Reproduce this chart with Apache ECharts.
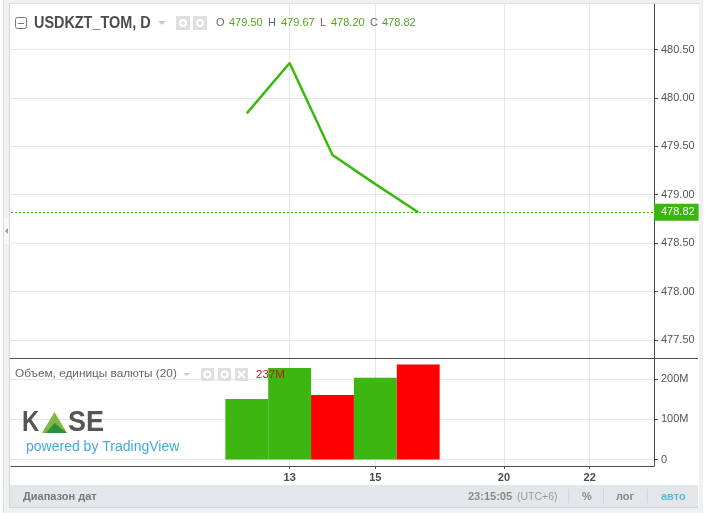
<!DOCTYPE html>
<html>
<head>
<meta charset="utf-8">
<style>
  html, body { margin: 0; padding: 0; background: #fff; }
  #chart { width: 711px; height: 516px; }
</style>
<script src="https://cdn.jsdelivr.net/npm/echarts@6/dist/echarts.min.js"></script>
</head>
<body>
<div id="chart"></div>
<script>
// trading days on the axis, weekends are skipped
const days = ["5", "6", "7", "8", "9", "12", "13", "14", "15", "16", "19", "20", "21", "22", "23"];
const shownDays = ["13", "15", "20", "22"];
const closes = [null, null, null, null, null, 479.84, 480.36, 479.41, 479.11, 478.82, null, null, null, null, null];
const volumes = [null, null, null, null, null, 151e6, 228e6, 161e6, 204e6, 237e6, null, null, null, null, null];
const volumeUp = [true, true, true, true, true, true, true, false, true, false, true, true, true, true, true];
const priceTicks = [477.5, 478, 478.5, 479, 479.5, 480, 480.5];
const volumeTicks = [0, 100e6, 200e6];
const lastClose = 478.82;

const GREEN = "#3cb70f";
const RED = "#ff0000";
const AXIS = "#4c4c4c";
const GRIDLINE = "#e6e6e6";
const FRAME = "#eef0f3";
const FONT = "Arial, 'Liberation Sans', sans-serif";

const chart = echarts.init(document.getElementById("chart"));

const isShown = (i, v) => shownDays.includes(v);
const txt = (x, y, text, size, fill, weight) => ({
  type: "text", x: x, y: y, z: 20,
  style: { text: text, fontSize: size, fill: fill, fontFamily: FONT, fontWeight: weight || "normal", verticalAlign: "middle" }
});
const box = (x, y, w, h, fill) => ({ type: "rect", z: 19, shape: { x: x, y: y, width: w, height: h }, style: { fill: fill } });
const rule = (x1, y1, x2, y2, color, width) => ({
  type: "line", z: 20, shape: { x1: x1, y1: y1, x2: x2, y2: y2 }, style: { stroke: color, lineWidth: width || 1 }
});
const ring = (cx, cy) => ({ type: "circle", z: 21, shape: { cx: cx, cy: cy, r: 3 }, style: { fill: "none", stroke: "#fff", lineWidth: 2 } });

const option = {
  animation: false,
  backgroundColor: "#ffffff",
  grid: [
    { left: 11, width: 643, top: 4, height: 354 },
    { left: 11, width: 643, top: 358, height: 108 }
  ],
  xAxis: [
    {
      type: "category", gridIndex: 0, data: days, boundaryGap: true,
      axisLine: { show: false }, axisTick: { show: false }, axisLabel: { show: false },
      splitLine: { show: true, alignWithLabel: true, interval: isShown, lineStyle: { color: GRIDLINE } }
    },
    {
      type: "category", gridIndex: 1, data: days, boundaryGap: true,
      axisLine: { show: true, onZero: false, lineStyle: { color: AXIS } },
      axisTick: { show: true, alignWithLabel: true, length: 3, interval: isShown, lineStyle: { color: AXIS } },
      axisLabel: { interval: isShown, color: "#4c4c4c", fontSize: 11, fontWeight: "bold", fontFamily: FONT, margin: 6 },
      splitLine: { show: true, alignWithLabel: true, interval: isShown, lineStyle: { color: GRIDLINE } }
    }
  ],
  yAxis: [
    {
      type: "value", gridIndex: 0, position: "right", min: 477.314, max: 480.97, scale: true,
      axisLine: { show: true, lineStyle: { color: AXIS } },
      axisTick: { show: true, length: 4, customValues: priceTicks, lineStyle: { color: AXIS } },
      axisLabel: { customValues: priceTicks, formatter: v => v.toFixed(2), color: "#555", fontSize: 11, fontFamily: FONT, margin: 7 },
      splitLine: { show: true, lineStyle: { color: GRIDLINE } }
    },
    {
      type: "value", gridIndex: 1, position: "right", min: -16e6, max: 253e6,
      axisLine: { show: true, lineStyle: { color: AXIS } },
      axisTick: { show: true, length: 4, customValues: volumeTicks, lineStyle: { color: AXIS } },
      axisLabel: { customValues: volumeTicks, formatter: v => (v === 0 ? "0" : v / 1e6 + "M"), color: "#555", fontSize: 11, fontFamily: FONT, margin: 7 },
      splitLine: { show: true, lineStyle: { color: GRIDLINE } }
    }
  ],
  series: [
    {
      type: "line", xAxisIndex: 0, yAxisIndex: 0, data: closes, symbol: "none", z: 5,
      lineStyle: { color: GREEN, width: 2.5 },
      markLine: {
        silent: true, symbol: "none", animation: false,
        lineStyle: { color: GREEN, type: [2, 2], width: 1 },
        label: {
          position: "end", distance: 0, formatter: lastClose.toFixed(2), color: "#fff",
          backgroundColor: GREEN, fontSize: 11, fontFamily: FONT, padding: [3, 4, 3, 7]
        },
        data: [{ yAxis: lastClose }]
      }
    },
    {
      type: "bar", xAxisIndex: 1, yAxisIndex: 1, barWidth: "100%", z: 5,
      data: volumes.map((v, i) => ({ value: v, itemStyle: { color: volumeUp[i] ? GREEN : RED } }))
    }
  ],
  graphic: [
    // window frame and bottom toolbar
    box(3, 0, 6, 513, FRAME),
    box(3, 0, 700, 3, FRAME),
    box(699, 0, 4, 513, FRAME),
    box(3, 508, 700, 5, FRAME),
    rule(3.5, 0, 3.5, 513, "#dcdee1"),
    rule(9.5, 3, 9.5, 508, "#d4d6d9"),
    rule(10, 3.5, 699, 3.5, "#dcdee1"),
    box(4, 218, 5, 26, "#f8f9fa"),
    { type: "polygon", z: 20, shape: { points: [[8, 228], [8, 234], [5, 231]] }, style: { fill: "#9a9a9a" } },
    box(10, 485, 688, 22, "#e3e7ea"),
    rule(10, 507.5, 698, 507.5, "#cfd3d6"),
    rule(10, 358.5, 698, 358.5, AXIS),
    txt(23, 497, "Диапазон дат", 11, "#777", "bold"),
    txt(468, 497, "23:15:05", 11, "#888", "bold"),
    txt(517, 497, "(UTC+6)", 10.5, "#999"),
    rule(568.5, 489, 568.5, 503, "#d3d7da"),
    txt(582, 497, "%", 11, "#888", "bold"),
    rule(603.5, 489, 603.5, 503, "#d3d7da"),
    txt(616, 497, "лог", 11, "#888", "bold"),
    rule(647.5, 489, 647.5, 503, "#d3d7da"),
    txt(661, 497, "авто", 11, "#5bb8dc", "bold"),
    // legend of the main pane
    { type: "rect", z: 20, shape: { x: 15.5, y: 17.5, width: 11, height: 11, r: 2 }, style: { fill: "#fff", stroke: "#777" } },
    rule(18, 23.5, 24, 23.5, "#777"),
    { type: "text", x: 34, y: 24, z: 20, scaleX: 0.9, style: { text: "USDKZT_TOM, D", fontSize: 16, fill: "#4c4c4c", fontFamily: FONT, fontWeight: "bold", verticalAlign: "middle" } },
    { type: "polygon", z: 20, shape: { points: [[158, 21], [166, 21], [162, 25]] }, style: { fill: "#c8c8c8" } },
    box(176, 16, 14, 14, "#dfdfdf"),
    box(193, 16, 14, 14, "#dfdfdf"),
    ring(183, 23),
    ring(200, 23),
    txt(216, 23, "O", 11, "#666"),
    txt(229, 23, "479.50", 11, "#55a51c"),
    txt(268, 23, "H", 11, "#666"),
    txt(281, 23, "479.67", 11, "#55a51c"),
    txt(320, 23, "L", 11, "#666"),
    txt(331, 23, "478.20", 11, "#55a51c"),
    txt(370, 23, "C", 11, "#666"),
    txt(382, 23, "478.82", 11, "#55a51c"),
    // legend of the volume pane
    txt(15, 374, "Объем, единицы валюты (20)", 11.8, "#666"),
    { type: "polygon", z: 20, shape: { points: [[183, 373], [190, 373], [186.5, 376]] }, style: { fill: "#c8c8c8" } },
    box(201, 368, 13, 13, "#dfdfdf"),
    box(218, 368, 13, 13, "#dfdfdf"),
    box(235, 368, 13, 13, "#dfdfdf"),
    ring(207.5, 374.5),
    ring(224.5, 374.5),
    rule(238, 371, 245, 378, "#fff", 2),
    rule(245, 371, 238, 378, "#fff", 2),
    txt(256, 375, "237M", 11.5, "#c9141e"),
    // KASE logo
    { type: "text", x: 22, y: 423, z: 20, scaleX: 0.82, style: { text: "K", fontSize: 29, fill: "#55565a", fontFamily: FONT, fontWeight: "bold", verticalAlign: "middle" } },
    { type: "polygon", z: 20, shape: { points: [[42, 433], [54.5, 412], [67, 433]] }, style: { fill: "#7fb83e" } },
    { type: "polygon", z: 20, shape: { points: [[46, 433], [54.5, 423], [67, 433]] }, style: { fill: "#2f8f3f" } },
    { type: "text", x: 68, y: 423, z: 20, scaleX: 0.93, style: { text: "SE", fontSize: 29, fill: "#55565a", fontFamily: FONT, fontWeight: "bold", verticalAlign: "middle" } },
    txt(26, 447, "powered by TradingView", 14, "#45a8dc")
  ]
};

chart.setOption(option);
</script>
</body>
</html>
